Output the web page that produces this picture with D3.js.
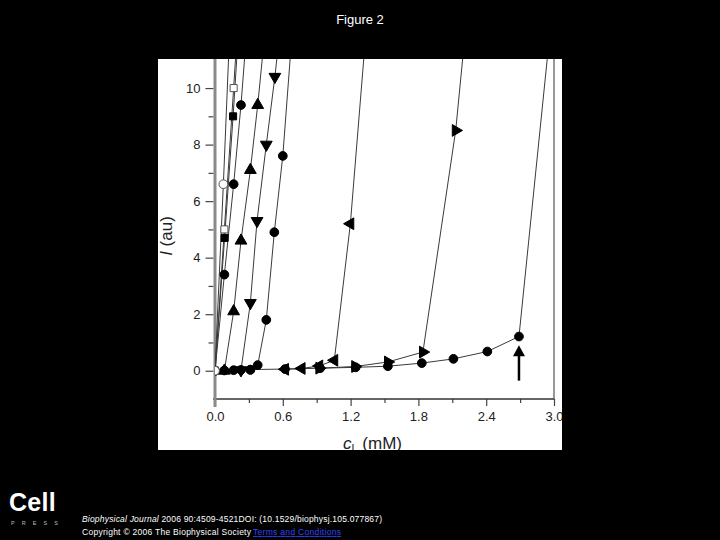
<!DOCTYPE html>
<html><head><meta charset="utf-8">
<script src="https://cdn.jsdelivr.net/npm/d3@7"></script>
<style>html,body{margin:0;padding:0;background:#000;}svg{display:block;}</style>
</head><body>
<script>
// ---- data ----
const xMajorTicks = [0, 0.6, 1.2, 1.8, 2.4, 3.0];
const xMinorTicks = [0.3, 0.9, 1.5, 2.1, 2.7];
const yMajorTicks = [0, 2, 4, 6, 8, 10];
const yMinorTicks = [1, 3, 5, 7, 9];

const openCircleX = [0, 0.074, 0.14];
const openCircleY = [0, 6.6, 13.0];
const openSquareX = [0, 0.083, 0.165, 0.2];
const openSquareY = [0, 5.0, 10.0, 12.2];
const filledSquareX = [0, 0.085, 0.16, 0.2];
const filledSquareY = [0, 4.7, 9.0, 11.5];
const circleAX = [0, 0.083, 0.165, 0.23, 0.28];
const circleAY = [0, 3.4, 6.6, 9.4, 12.0];
const triUpX = [0.083, 0.165, 0.23, 0.313, 0.378, 0.43];
const triUpY = [0, 2.1, 4.6, 7.1, 9.4, 11.5];
const triDownX = [0.23, 0.313, 0.372, 0.454, 0.53, 0.56];
const triDownY = [0.02, 2.4, 5.3, 8.0, 10.4, 11.5];
const circleBX = [0.313, 0.378, 0.454, 0.525, 0.60, 0.67];
const circleBY = [0.03, 0.2, 1.8, 4.9, 7.6, 11.3];
const triLeftX = [0.62, 0.767, 0.923, 1.056, 1.198, 1.33];
const triLeftY = [0.05, 0.08, 0.17, 0.37, 5.2, 11.7];
const triRightX = [0.923, 1.24, 1.53, 1.84, 2.13, 2.22];
const triRightY = [0.09, 0.15, 0.31, 0.66, 8.5, 12.2];
const circleCX = [0, 0.083, 0.165, 0.23, 0.313, 0.62, 0.93, 1.245, 1.53, 1.83, 2.11, 2.41, 2.69, 2.97];
const circleCY = [0, 0.01, 0.02, 0.03, 0.04, 0.06, 0.09, 0.12, 0.16, 0.27, 0.42, 0.68, 1.21, 12.2];
const arrowX = [2.69, 2.69];
const arrowY = [-0.35, 0.9];

const W = 720, H = 540;
const svg = d3.select("body").append("svg").attr("width", W).attr("height", H)
  .style("font-family", "Arial, 'Liberation Sans', sans-serif");
svg.append("rect").attr("width", W).attr("height", H).attr("fill", "#000");

svg.append("text").attr("x", 360).attr("y", 24).attr("text-anchor", "middle")
  .attr("fill", "#fff").attr("font-size", 13).text("Figure 2");

// panel
const panel = {x: 158, y: 59, w: 404, h: 391};
const defs = svg.append("defs");
defs.append("clipPath").attr("id", "panelClip").append("rect")
  .attr("x", panel.x).attr("y", panel.y).attr("width", panel.w).attr("height", panel.h);
const P = svg.append("g").attr("clip-path", "url(#panelClip)");
P.append("rect").attr("x", panel.x).attr("y", panel.y).attr("width", panel.w).attr("height", panel.h).attr("fill", "#fff");

const x = d3.scaleLinear().domain([0, 3]).range([215, 554]);
const y = d3.scaleLinear().domain([-1, 11]).range([399.0, 59.8]);

defs.append("clipPath").attr("id", "plotClip").append("rect")
  .attr("x", x(0)).attr("y", panel.y).attr("width", x(3) - x(0)).attr("height", y(-1) - panel.y);

// axes
const yAxisG = P.append("g").attr("transform", `translate(${x(0) - 1.5},0)`);
yAxisG.call(d3.axisLeft(y).tickValues(yMajorTicks).tickSize(8).tickPadding(5).tickFormat(d3.format("d")));
const yMinorG = P.append("g").attr("transform", `translate(${x(0) - 1.5},0)`);
yMinorG.call(d3.axisLeft(y).tickValues(yMinorTicks).tickSize(5).tickFormat(""));
const xAxisG = P.append("g").attr("transform", `translate(0,${y(-1)})`);
xAxisG.call(d3.axisBottom(x).tickValues(xMajorTicks).tickSize(7).tickPadding(6).tickFormat(d3.format(".1f")));
const xMinorG = P.append("g").attr("transform", `translate(0,${y(-1)})`);
xMinorG.call(d3.axisBottom(x).tickValues(xMinorTicks).tickSize(4).tickFormat(""));
[yAxisG, yMinorG, xAxisG, xMinorG].forEach(g => {
  g.select(".domain").remove();
  g.selectAll("line").attr("stroke", "#444").attr("stroke-width", 1.2);
  g.selectAll("text").attr("fill", "#222").attr("font-size", 13)
    .attr("font-family", "Arial, 'Liberation Sans', sans-serif");
});
// frame lines
P.append("line").attr("x1", x(0) - 2).attr("x2", x(3)).attr("y1", y(-1)).attr("y2", y(-1))
  .attr("stroke", "#333").attr("stroke-width", 1.3);
P.append("line").attr("x1", x(3)).attr("x2", x(3)).attr("y1", panel.y).attr("y2", y(-1))
  .attr("stroke", "#333").attr("stroke-width", 1);
P.append("line").attr("x1", x(0)).attr("x2", x(0)).attr("y1", panel.y).attr("y2", y(-1) + 8)
  .attr("stroke", "#8a8a8a").attr("stroke-width", 3);

// axis titles
const yl = P.append("text").attr("transform", `translate(172,236) rotate(-90)`)
  .attr("text-anchor", "middle").attr("fill", "#222").attr("font-size", 17);
yl.append("tspan").attr("font-style", "italic").text("I");
yl.append("tspan").text(" (au)");
const xl = P.append("text").attr("x", 343).attr("y", 449).attr("fill", "#222").attr("font-size", 17);
xl.append("tspan").attr("font-style", "italic").text("c");
xl.append("tspan").attr("font-size", 11).attr("dy", 3).text("L");
xl.append("tspan").attr("dy", -3).text(" (mM)");

// series
const series = [
  {xs: circleCX, ys: circleCY, shape: "circle", fill: "#000"},
  {xs: triRightX, ys: triRightY, shape: "triRight", fill: "#000"},
  {xs: triLeftX, ys: triLeftY, shape: "triLeft", fill: "#000"},
  {xs: circleBX, ys: circleBY, shape: "circle", fill: "#000"},
  {xs: triDownX, ys: triDownY, shape: "triDown", fill: "#000"},
  {xs: triUpX, ys: triUpY, shape: "triUp", fill: "#000"},
  {xs: circleAX, ys: circleAY, shape: "circle", fill: "#000"},
  {xs: filledSquareX, ys: filledSquareY, shape: "square", fill: "#000"},
  {xs: openSquareX, ys: openSquareY, shape: "square", fill: "#fff"},
  {xs: openCircleX, ys: openCircleY, shape: "circle", fill: "#fff"},
];
const plot = P.append("g").attr("clip-path", "url(#plotClip)");
const line = d3.line().x(d => x(d[0])).y(d => y(d[1]));
const sym = {
  circle: d3.symbol().type(d3.symbolCircle).size(60),
  square: d3.symbol().type(d3.symbolSquare).size(50),
  triUp: d3.symbol().type(d3.symbolTriangle).size(60),
};
series.forEach(s => {
  const pts = s.xs.map((v, i) => [v, s.ys[i]]);
  plot.append("path").attr("d", line(pts)).attr("fill", "none")
    .attr("stroke", "#3a3a3a").attr("stroke-width", 1);
});
series.forEach(s => {
  const pts = s.xs.map((v, i) => [v, s.ys[i]]);
  const rot = {triUp: 0, triDown: 180, triLeft: -90, triRight: 90}[s.shape] || 0;
  const gen = s.shape.startsWith("tri") ? sym.triUp : sym[s.shape];
  plot.selectAll(null).data(pts).enter().append("path")
    .attr("d", gen())
    .attr("transform", d => `translate(${x(d[0])},${y(d[1])}) rotate(${rot})`)
    .attr("fill", s.fill).attr("stroke", s.fill === "#fff" ? "#555" : "#000")
    .attr("stroke-width", 1);
});

// arrow annotation
const ax1 = x(arrowX[0]), ay1 = y(arrowY[0]), ay2 = y(arrowY[1]);
plot.append("line").attr("x1", ax1).attr("x2", ax1).attr("y1", ay1).attr("y2", ay2 + 8)
  .attr("stroke", "#000").attr("stroke-width", 2.5);
plot.append("path").attr("d", `M${ax1},${ay2} L${ax1 - 6},${ay2 + 11} L${ax1 + 6},${ay2 + 11} Z`)
  .attr("fill", "#000");

// footer
svg.append("text").attr("x", 9).attr("y", 511).attr("fill", "#fff").attr("font-size", 25)
  .attr("font-weight", "bold").attr("letter-spacing", 0.3).text("Cell");
svg.append("text").attr("x", 11).attr("y", 525).attr("fill", "#bbb").attr("font-size", 5.5)
  .attr("textLength", 47).text("P R E S S");
const t1 = svg.append("text").attr("x", 82).attr("y", 522).attr("fill", "#fff").attr("font-size", 8.5)
  .attr("textLength", 300).attr("lengthAdjust", "spacing");
t1.append("tspan").attr("font-style", "italic").text("Biophysical Journal");
t1.append("tspan").text(" 2006 90:4509-4521DOI: (10.1529/biophysj.105.077867)");
svg.append("text").attr("x", 82).attr("y", 535).attr("fill", "#fff").attr("font-size", 8.5)
  .attr("textLength", 169).attr("lengthAdjust", "spacing")
  .text("Copyright © 2006 The Biophysical Society");
svg.append("text").attr("x", 253).attr("y", 535).attr("fill", "#3344ff").attr("font-size", 8.5)
  .attr("text-decoration", "underline").attr("textLength", 88).attr("lengthAdjust", "spacing")
  .text("Terms and Conditions");
</script>
</body></html>
